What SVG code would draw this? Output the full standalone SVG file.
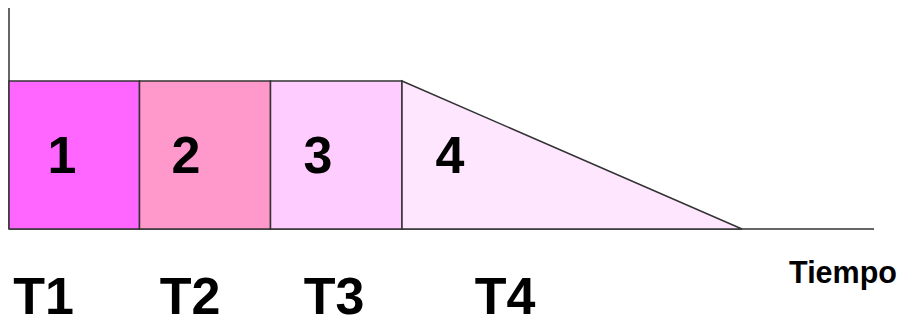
<svg xmlns="http://www.w3.org/2000/svg" width="901" height="320" viewBox="0 0 901 320">
<style>
.lbl{font-family:"Liberation Sans",Arial,sans-serif;font-weight:bold;fill:#000;text-anchor:middle}
.big{font-size:52px}
.ax{stroke:#333;stroke-width:1.5;fill:none}
.box{stroke:#333;stroke-width:1.5}
</style>
<rect width="901" height="320" fill="#fff"/>
<g id="axes">
<line class="ax" x1="9" y1="8" x2="9" y2="229"/>
<line class="ax" x1="9" y1="229" x2="874" y2="229"/>
</g>
<g id="n1"><rect class="box" x="9" y="81" width="130.5" height="148" fill="#FF66FF"/><text class="lbl big" x="62" y="173">1</text></g>
<g id="n2"><rect class="box" x="139.5" y="81" width="131" height="148" fill="#FF99CC"/><text class="lbl big" x="186" y="173">2</text></g>
<g id="n3"><rect class="box" x="270.5" y="81" width="131.5" height="148" fill="#FFCCFF"/><text class="lbl big" x="318" y="173">3</text></g>
<g id="n4"><polygon class="box" points="402,81 742,229 402,229" fill="#FFE6FF" stroke-width="1.2"/><text class="lbl big" x="450" y="173">4</text></g>
<g id="labels">
<text class="lbl big" x="43.5" y="314">T1</text>
<text class="lbl big" x="190" y="314">T2</text>
<text class="lbl big" x="334" y="314">T3</text>
<text class="lbl big" x="505" y="314">T4</text>
<text class="lbl" x="843" y="283" font-size="30.5">Tiempo</text>
</g>
</svg>
